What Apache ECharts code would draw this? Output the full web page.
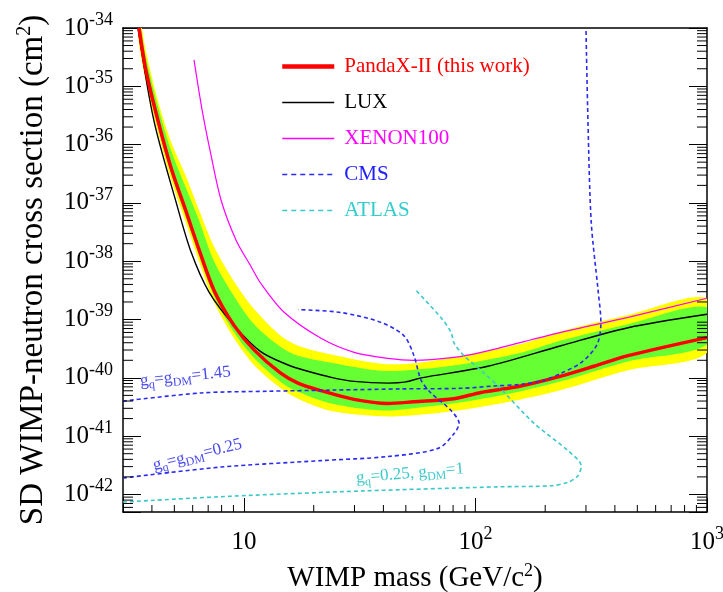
<!DOCTYPE html>
<html>
<head>
<meta charset="utf-8">
<script src="https://cdn.jsdelivr.net/npm/echarts@6/dist/echarts.min.js"></script>
<style>
  html, body { margin: 0; padding: 0; background: #fff; }
  #main { width: 723px; height: 592px; }
</style>
</head>
<body>
<div id="main"></div>
<script>
// cross sections are given in cm^2, plotted in units of 1e-40 cm^2 (log axis rounds tiny ticks)
const Y_UNIT = 1e-40
const SERIF = 'Liberation Serif'

// PandaX-II (this work)
const pandaxMass = [3.52, 3.77, 4.25, 4.84, 5.62, 6.39, 7.42, 9.05, 11.05, 14.4, 17.1, 21.5, 29.9, 41.9, 54.2, 80.7, 105.6, 157, 234, 325, 456, 1000]
const pandaxXsec = [1.0e-34, 1.86e-35, 2.57e-36, 3.98e-37, 7.08e-38, 1.58e-38, 3.16e-39, 7.94e-40, 3.02e-40, 1.20e-40, 8.13e-41, 6.03e-41, 4.27e-41, 3.63e-41, 3.89e-41, 4.37e-41, 5.62e-41, 7.24e-41, 1.07e-40, 1.58e-40, 2.40e-40, 4.90e-40]

// LUX
const luxMass = [3.48, 4.08, 5.08, 5.90, 7.06, 9.05, 11.8, 15.5, 18.2, 23.8, 29.9, 41.9, 50, 58.2, 113, 234, 456, 1000]
const luxXsec = [1.0e-34, 2.57e-36, 1.05e-37, 1.45e-38, 2.95e-39, 7.94e-40, 2.82e-40, 1.66e-40, 1.35e-40, 1.02e-40, 8.71e-41, 8.13e-41, 8.51e-41, 1.0e-40, 1.58e-40, 3.55e-40, 7.24e-40, 1.23e-39]

// XENON100
const xenonMass = [6.08, 6.59, 7.20, 7.96, 9.24, 10.7, 11.8, 14.9, 21.5, 29.9, 41.9, 54.2, 80.7, 105.6, 234, 456, 1000]
const xenonXsec = [2.83e-35, 3.91e-36, 6.61e-37, 1.11e-37, 2.29e-38, 8.20e-39, 4.19e-39, 1.33e-39, 4.76e-40, 2.74e-40, 2.16e-40, 2.0e-40, 2.25e-40, 2.74e-40, 6.04e-40, 1.09e-39, 2.32e-39]

// CMS, g_q = g_DM = 1.45
const cms145Mass = [3.0, 6.52, 12.7, 24.5, 47.6, 86.6, 120, 157, 198, 234, 286, 335, 348, 338, 316, 306, 300]
const cms145Xsec = [3.98e-41, 5.50e-41, 5.89e-41, 6.17e-41, 6.46e-41, 6.61e-41, 7.24e-41, 7.76e-41, 9.12e-41, 1.20e-40, 1.82e-40, 3.72e-40, 8.91e-40, 3.31e-39, 4.79e-38, 2.57e-36, 1.0e-34]

// CMS, g_q = g_DM = 0.25
const cms025Mass = [3.0, 7.95, 21.5, 41.9, 68.9, 80.7, 84.9, 78.4, 64.2, 58.2, 54.2, 49.1, 39.1, 26.2, 17.1]
const cms025Xsec = [1.91e-42, 2.95e-42, 3.80e-42, 4.47e-42, 6.17e-42, 1.10e-41, 1.66e-41, 2.75e-41, 5.50e-41, 9.12e-41, 2.40e-40, 5.25e-40, 8.91e-40, 1.32e-39, 1.48e-39]

// ATLAS, g_q = 0.25, g_DM = 1
const atlasMass = [3.0, 8.78, 33.0, 125, 212, 251, 277, 286, 251, 179, 125, 109, 89.1, 80.7, 78.4, 71.0, 55.3]
const atlasXsec = [7.41e-43, 9.33e-43, 1.15e-42, 1.35e-42, 1.41e-42, 1.62e-42, 2.09e-42, 3.09e-42, 5.62e-42, 1.66e-41, 7.24e-41, 1.20e-40, 2.40e-40, 3.98e-40, 6.03e-40, 1.07e-39, 3.16e-39]

// PandaX-II sensitivity bands (+-1 sigma green, +-2 sigma yellow)
const bandMass = [3.5, 3.77, 4.25, 4.84, 5.62, 6.39, 7.42, 9.05, 11.05, 14.4, 17.1, 23.8, 39.1, 54.2, 86.6, 157, 234, 456, 1000]
const yellowUp = [2.0e-34, 3.98e-35, 5.62e-36, 1.12e-36, 2.82e-37, 7.59e-38, 1.78e-38, 4.47e-39, 1.51e-39, 5.25e-40, 3.55e-40, 2.51e-40, 1.74e-40, 1.78e-40, 2.40e-40, 3.80e-40, 6.31e-40, 1.20e-39, 2.29e-39]
const greenUp = [1.58e-34, 3.16e-35, 4.47e-36, 7.94e-37, 1.78e-37, 5.01e-38, 1.00e-38, 2.51e-39, 8.32e-40, 3.39e-40, 2.40e-40, 1.82e-40, 1.32e-40, 1.38e-40, 1.70e-40, 2.69e-40, 4.37e-40, 8.32e-40, 1.62e-39]
const greenDown = [7.94e-35, 1.48e-35, 2.04e-36, 3.16e-37, 5.62e-38, 1.26e-38, 2.51e-39, 6.03e-40, 2.19e-40, 8.51e-41, 5.75e-41, 3.63e-41, 2.75e-41, 3.02e-41, 3.80e-41, 5.89e-41, 8.71e-41, 1.91e-40, 3.72e-40]
const yellowDown = [6.31e-35, 1.18e-35, 1.62e-36, 2.51e-37, 4.47e-38, 1.00e-38, 2.00e-39, 4.79e-40, 1.66e-40, 6.61e-41, 4.37e-41, 2.69e-41, 2.19e-41, 2.29e-41, 2.82e-41, 4.27e-41, 6.17e-41, 1.35e-40, 2.69e-40]

// coupling annotations
const annoMass = [3.55, 4.05, 30.5]
const annoXsec = [8.7e-41, 3.09e-42, 1.9e-42]
const annoText = ['g{s|q}=g{s|DM}=1.45', 'g{s|q}=g{s|DM}=0.25', 'g{s|q}=0.25, g{s|DM}=1']
const annoAngle = [6, 14, 5]
const annoColor = ['#4848f0', '#4848f0', '#3cc8c8']

// axis range and minor ticks
const xMin = 3, xMax = 1000
const yMin = 5e-43, yMax = 1e-34
const xMinorTicks = [4, 5, 6, 7, 8, 9, 20, 30, 40, 50, 60, 70, 80, 90, 200, 300, 400, 500, 600, 700, 800, 900]
const yMinorMantissas = [2, 3, 4, 5, 6, 7, 8, 9]
const yMinorDecades = [-43, -42, -41, -40, -39, -38, -37, -36, -35]

const yMinorTicks = []
yMinorDecades.forEach(e => yMinorMantissas.forEach(k => {
    const v = k * Math.pow(10, e)
    if (v > yMin * 1.01) yMinorTicks.push(v)
}))

const pairs = (xs, ys) => xs.map((x, i) => [x, ys[i] / Y_UNIT])

const labelRich = {
    b: { fontFamily: SERIF, fontSize: 25, color: '#000', lineHeight: 34 },
    sup: { fontFamily: SERIF, fontSize: 18, color: '#000', padding: [0, 0, 16, 0] }
}

function yLabel(v) {
    const e = Math.log10(v * Y_UNIT)
    const n = Math.round(e)
    if (Math.abs(e - n) > 0.01) return ''
    return '{b|10}{sup|' + n + '}'
}

function xLabel(v) {
    const e = Math.log10(v)
    const n = Math.round(e)
    if (Math.abs(e - n) > 0.01) return ''
    return n === 1 ? '{b|10}' : '{b|10}{sup|' + n + '}'
}

function bandSeries(upper, lower, color) {
    return {
        type: 'custom',
        silent: true,
        clip: true,
        z: 1,
        data: [[bandMass[0], upper[0] / Y_UNIT]],
        renderItem: (params, api) => {
            const pts = []
            bandMass.forEach((m, i) => pts.push(api.coord([m, upper[i] / Y_UNIT])))
            for (let i = bandMass.length - 1; i >= 0; i--) {
                pts.push(api.coord([bandMass[i], lower[i] / Y_UNIT]))
            }
            return { type: 'polygon', shape: { points: pts, smooth: 0.3 }, style: { fill: color } }
        }
    }
}

function lineSeries(name, xs, ys, color, width, type) {
    return {
        name: name,
        type: 'line',
        data: pairs(xs, ys),
        symbol: 'none',
        smooth: 0.3,
        clip: true,
        z: 3,
        lineStyle: { color: color, width: width, type: type || 'solid' },
        itemStyle: { color: color }
    }
}

const tickStyle = { stroke: '#000', lineWidth: 1 }

const chart = echarts.init(document.getElementById('main'))

chart.setOption({
    animation: false,
    backgroundColor: '#fff',
    grid: { left: 123, right: 16, top: 28, bottom: 80, outerBoundsMode: 'none' },
    legend: {
        left: 275,
        top: 51,
        orient: 'vertical',
        itemWidth: 52,
        itemHeight: 18,
        itemGap: 15,
        selectedMode: false,
        itemStyle: { opacity: 0, color: 'rgba(0,0,0,0)', borderWidth: 0 },
        textStyle: { fontFamily: SERIF, fontSize: 21, padding: [0, 0, 0, 5] },
        data: [
            { name: 'PandaX-II (this work)', textStyle: { color: '#ff0000' }, lineStyle: { width: 4.5 } },
            { name: 'LUX', textStyle: { color: '#000' }, lineStyle: { width: 1.4 } },
            { name: 'XENON100', textStyle: { color: '#ff00ff' }, lineStyle: { width: 1.4 } },
            { name: 'CMS', textStyle: { color: '#2020ff' }, lineStyle: { width: 1.6, type: [5, 4] } },
            { name: 'ATLAS', textStyle: { color: '#33cccc' }, lineStyle: { width: 1.6, type: [5, 4] } }
        ]
    },
    xAxis: [
        {
            type: 'log', logBase: 10, min: xMin, max: xMax, position: 'bottom',
            axisLine: { onZero: false, lineStyle: { color: '#000', width: 1.5 } },
            axisTick: { inside: true, length: 14, lineStyle: { color: '#000', width: 1 } },
            splitLine: { show: false },
            axisLabel: { formatter: xLabel, rich: labelRich, margin: 13 },
            name: 'WIMP mass (GeV/c{sup|2})',
            nameLocation: 'middle',
            nameGap: 50,
            nameTextStyle: {
                fontFamily: SERIF, fontSize: 29, color: '#000',
                rich: { sup: { fontFamily: SERIF, fontSize: 18, color: '#000', padding: [0, 0, 14, 0] } }
            }
        },
        {
            type: 'log', logBase: 10, min: xMin, max: xMax, position: 'top',
            axisLine: { onZero: false, lineStyle: { color: '#000', width: 1.5 } },
            axisTick: { show: false }, axisLabel: { show: false }, splitLine: { show: false }
        }
    ],
    yAxis: [
        {
            type: 'log', logBase: 10, min: yMin / Y_UNIT, max: yMax / Y_UNIT, position: 'left',
            axisLine: { onZero: false, lineStyle: { color: '#000', width: 1.5 } },
            axisTick: { inside: true, length: 18, lineStyle: { color: '#000', width: 1 } },
            splitLine: { show: false },
            axisLabel: { formatter: yLabel, rich: labelRich, margin: 10 },
            name: 'SD WIMP-neutron cross section (cm{sup|2})',
            nameLocation: 'middle',
            nameRotate: 90,
            nameGap: 72,
            nameTextStyle: {
                fontFamily: SERIF, fontSize: 33, color: '#000',
                rich: { sup: { fontFamily: SERIF, fontSize: 20, color: '#000', padding: [0, 0, 16, 0] } }
            }
        },
        {
            type: 'log', logBase: 10, min: yMin / Y_UNIT, max: yMax / Y_UNIT, position: 'right',
            axisLine: { onZero: false, lineStyle: { color: '#000', width: 1.5 } },
            axisTick: { inside: true, length: 18, lineStyle: { color: '#000', width: 1 } },
            axisLabel: { show: false }, splitLine: { show: false }
        }
    ],
    series: [
        bandSeries(yellowUp, yellowDown, '#ffff00'),
        bandSeries(greenUp, greenDown, '#66ff33'),
        lineSeries('XENON100', xenonMass, xenonXsec, '#ff00ff', 1.2),
        lineSeries('LUX', luxMass, luxXsec, '#000', 1.4),
        lineSeries('PandaX-II (this work)', pandaxMass, pandaxXsec, '#ff0000', 3.5),
        lineSeries('CMS', cms145Mass, cms145Xsec, '#2a2af0', 1.6, [4, 3]),
        lineSeries('CMS', cms025Mass, cms025Xsec, '#2a2af0', 1.6, [4, 3]),
        lineSeries('ATLAS', atlasMass, atlasXsec, '#3cc8c8', 1.6, [4, 3]),
        {
            type: 'custom',
            silent: true,
            z: 4,
            data: annoMass.map((m, i) => [m, annoXsec[i] / Y_UNIT]),
            renderItem: (params, api) => {
                const p = api.coord([api.value(0), api.value(1)])
                const i = params.dataIndex
                return {
                    type: 'text',
                    x: p[0], y: p[1],
                    rotation: annoAngle[i] * Math.PI / 180,
                    style: {
                        text: annoText[i],
                        fill: annoColor[i],
                        fontFamily: SERIF,
                        fontSize: 17,
                        align: 'left',
                        verticalAlign: 'middle',
                        rich: { s: { fontFamily: SERIF, fontSize: 12, padding: [10, 0, 0, 0] } }
                    }
                }
            }
        },
        {
            // minor ticks, bottom axis and both vertical axes
            type: 'custom',
            silent: true,
            z: 6,
            data: xMinorTicks.map(v => [v, 1, 0]).concat(yMinorTicks.map(v => [10, v / Y_UNIT, 1])),
            renderItem: (params, api) => {
                const cs = params.coordSys
                if (api.value(2) === 0) {
                    const x = api.coord([api.value(0), 1])[0]
                    const yb = cs.y + cs.height
                    return { type: 'line', shape: { x1: x, y1: yb, x2: x, y2: yb - 7 }, style: tickStyle }
                }
                const y = api.coord([10, api.value(1)])[1]
                const xr = cs.x + cs.width
                return {
                    type: 'group',
                    children: [
                        { type: 'line', shape: { x1: cs.x, y1: y, x2: cs.x + 10, y2: y }, style: tickStyle },
                        { type: 'line', shape: { x1: xr, y1: y, x2: xr - 10, y2: y }, style: tickStyle }
                    ]
                }
            }
        }
    ]
})
</script>
</body>
</html>
